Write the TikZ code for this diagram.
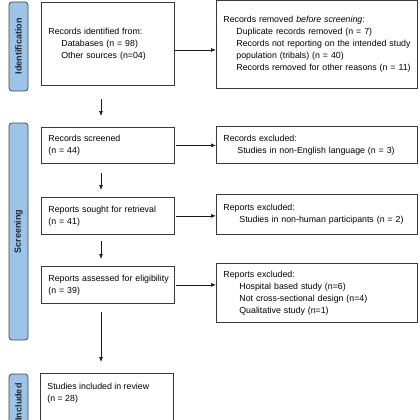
\documentclass[tikz,border=0pt]{standalone}
\usepackage{fontspec}
\setmainfont{Liberation Sans}
\usetikzlibrary{arrows.meta}
\definecolor{boxgray}{HTML}{3A3A3A}
\definecolor{bardraw}{HTML}{3E4A58}
\definecolor{barfill}{HTML}{9DC3E6}
\definecolor{bartxt}{HTML}{1E2833}
\definecolor{arrowc}{HTML}{1A1A1A}
\newcommand{\ind}[2]{\mbox{\hspace*{#1pt}#2}}
\begin{document}
\begin{tikzpicture}[x=1pt,y=-1pt,
  box/.style={draw=boxgray, line width=0.8pt, anchor=north west, align=left,
    inner xsep=7pt, inner ysep=0pt, font=\fontsize{8.8}{12}\selectfont},
  bar/.style={draw=bardraw, fill=barfill, line width=0.8pt, rounded corners=3pt,
    rotate=90, minimum height=19pt, inner sep=0pt,
    font=\bfseries\fontsize{9}{10}\selectfont, text=bartxt},
  arr/.style={-{Latex[length=5pt,width=4pt]}, line width=0.7pt, draw=arrowc}]
\useasboundingbox (0,0) rectangle (420,420);
\begin{scope}
\clip (0,0) rectangle (420,420);
% phase bars
\node[bar, minimum width=89pt] (idb) at (18.5,46.5) {Identification};
\node[bar, minimum width=217pt] (scb) at (18.5,231.5) {Screening};
\node[bar, minimum width=56pt] (inb) at (18.5,402) {Included};
% left column
\node[box, text width=119pt, minimum height=83pt] (b1) at (41,2)
  {\ind{0}{Records identified from:}\\\ind{13}{Databases (n = 98)}\\\ind{13}{Other sources (n=04)}};
\node[box, text width=119pt, minimum height=36pt] (scr) at (41,127)
  {\ind{0}{Records screened}\\\ind{0}{(n = 44)}};
\node[box, text width=119pt, minimum height=37pt] (sou) at (41,197)
  {\ind{0}{Reports sought for retrieval}\\\ind{0}{(n = 41)}};
\node[box, text width=119pt, minimum height=37pt] (ass) at (41,266)
  {\ind{0}{Reports assessed for eligibility}\\\ind{0}{(n = 39)}};
\node[box, inner ysep=10pt] (inc) at (40,373)
  {\parbox[b][70pt][t]{119pt}{\ind{0}{Studies included in review}\\\ind{0}{(n = 28)}}};
% right column
\node[box, text width=187pt, minimum height=87.5pt] (rem) at (216,0.5)
  {\ind{0}{Records removed \textit{before screening}:}\\
   \ind{13}{Duplicate records removed (n = 7)}\\
   \ind{13}{Records not reporting on the intended study}\\
   \ind{13}{population (tribals) (n = 40)}\\
   \ind{13}{Records removed for other reasons (n = 11)}};
\node[box, text width=187pt, minimum height=37pt] (ex1) at (216,126)
  {\ind{0}{Records excluded:}\\\ind{14}{Studies in non-English language (n = 3)}};
\node[box, text width=187pt, minimum height=40pt] (ex2) at (216,194)
  {\ind{0}{Reports excluded:}\\\ind{16}{Studies in non-human participants (n = 2)}};
\node[box, text width=187pt, minimum height=59pt] (ex3) at (216,263)
  {\ind{0}{Reports excluded:}\\\ind{16}{Hospital based study (n=6)}\\
   \ind{16}{Not cross-sectional design (n=4)}\\\ind{16}{Qualitative study (n=1)}};
% connectors
\coordinate (ax) at (101,0);
\coordinate (hy) at (0,50);
\draw[arr, shorten <=13pt, shorten >=11pt] (b1.south -| ax) -- (scr.north -| ax);
\draw[arr, shorten <=9pt, shorten >=7pt] (scr.south -| ax) -- (sou.north -| ax);
\draw[arr, shorten <=6pt, shorten >=7pt] (sou.south -| ax) -- (ass.north -| ax);
\draw[arr, shorten <=8pt, shorten >=11pt] (ass.south -| ax) -- (inc.north -| ax);
\draw[arr] (b1.east |- hy) -- (rem.west |- hy);
\draw[arr, shorten <=1pt] (scr.east) -- (scr.east -| ex1.west);
\draw[arr, shorten <=1.5pt] (sou.east) -- (sou.east -| ex2.west);
\draw[arr, shorten <=1.5pt] (ass.east) -- (ass.east -| ex3.west);
\end{scope}
\end{tikzpicture}
\end{document}
